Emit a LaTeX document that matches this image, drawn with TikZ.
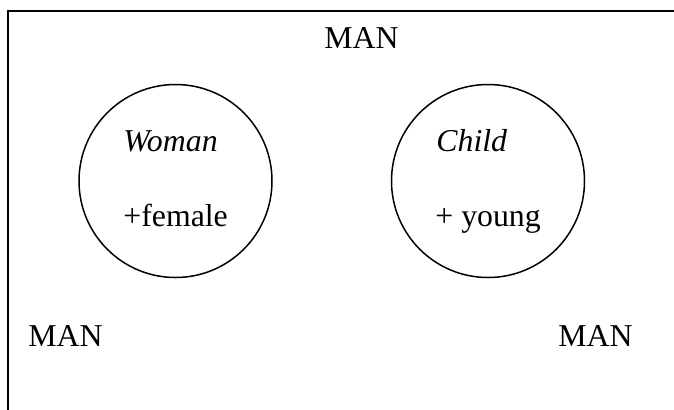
\documentclass[tikz,border=0pt]{standalone}
\usepackage{fontspec}
\setmainfont{Liberation Serif}
\begin{document}
\begin{tikzpicture}[x=0.5pt,y=-0.5pt,
  frame/.style={line width=1pt},
  set/.style={draw,circle,line width=0.75pt,inner sep=0pt,minimum size=96.5pt},
  lbl/.style={anchor=base west,inner sep=0pt,font=\fontsize{15.9}{19}\selectfont}]
  \useasboundingbox (0,0) rectangle (674,409);
  % open frame: top and left sides only
  \coordinate (tl) at (7.5,10.5);
  \coordinate (tr) at (680,10.5);
  \coordinate (bl) at (7.5,415);
  \draw[frame] (bl) -- (tl) -- (tr);
  % the two subsets
  \node[set] (woman) at (175.5,181) {};
  \node[set] (child) at (488,181) {};
  % labels
  \node[lbl] (mantop) at (324,48.3) {MAN};
  \node[lbl] (manleft) at (28,346) {MAN};
  \node[lbl] (manright) at (558,346) {MAN};
  \node[lbl] (wname) at (123,151.7) {\itshape Woman};
  \node[lbl] (wfeat) at (123,226.7) {+female};
  \node[lbl] (cname) at (436,151.7) {\itshape Child};
  \node[lbl] (cfeat) at (435,226.7) {+ young};
\end{tikzpicture}
\end{document}
